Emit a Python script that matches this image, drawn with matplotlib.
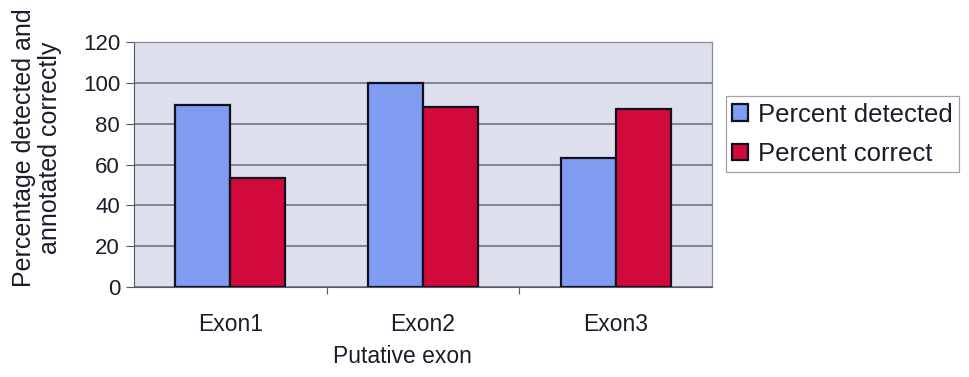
import numpy as np
import matplotlib.pyplot as plt

plt.rcParams['font.family'] = ['Liberation Sans', 'DejaVu Sans']

exons = ['Exon1', 'Exon2', 'Exon3']
percent_detected = [89, 100, 63]
percent_correct = [53.5, 88, 87]
yticks = [0, 20, 40, 60, 80, 100, 120]

text_col = '#1c1c2c'
blue = '#7f9cf0'
red = '#d20a3c'

fig = plt.figure(figsize=(9.69, 3.77), dpi=100)
ax = fig.add_axes([0.1383, 0.2387, 0.5965, 0.6499])
ax.set_facecolor('#dde0ec')

x = np.arange(len(exons))
w = 1 / 3.5
ax.bar(x - w / 2, percent_detected, w, color=blue, edgecolor='#101020',
       linewidth=1.6, label='Percent detected', zorder=3)
ax.bar(x + w / 2, percent_correct, w, color=red, edgecolor='#101020',
       linewidth=1.6, label='Percent correct', zorder=3)

ax.set_xlim(-0.5, 2.5)
ax.set_ylim(0, 120)
ax.set_yticks(yticks)
ax.yaxis.grid(True, color='#6a6a78', linewidth=1.1, zorder=1)
ax.set_axisbelow(True)

# category ticks sit between the groups, labels stay centred
ax.set_xticks([0.5, 1.5])
ax.set_xticklabels([])
ax.set_xticks(x, minor=True)
ax.set_xticklabels(exons, minor=True)
ax.tick_params(axis='x', which='major', length=5, color='#555566', direction='out')
ax.tick_params(axis='x', which='minor', length=0, pad=19, labelsize=16.5, labelcolor=text_col)
ax.tick_params(axis='y', length=6, color='#555566', labelsize=16, labelcolor=text_col, pad=4)

for side in ['top', 'right']:
    ax.spines[side].set_color('#8a8a98')
    ax.spines[side].set_linewidth(0.9)
ax.spines['left'].set_color('#555566')
ax.spines['bottom'].set_color('#555566')

ax.set_xlabel('Putative exon', fontsize=16.5, color=text_col)
ax.xaxis.set_label_coords(0.465, -0.235)
ax.set_ylabel('Percentage detected and\nannotated correctly', fontsize=18,
              color=text_col, linespacing=1.1)
ax.yaxis.set_label_coords(-0.125, 0.57)

leg = fig.legend(loc='center left', bbox_to_anchor=(0.749, 0.644), fontsize=18.5,
                 frameon=True, fancybox=False, edgecolor='#8a8a98',
                 handlelength=0.6, handleheight=0.6, handletextpad=0.4,
                 labelspacing=0.6, borderpad=0.25, borderaxespad=0,
                 labelcolor=text_col)
leg.get_frame().set_linewidth(0.9)

fig.savefig('out.png', dpi=100, facecolor='white')
